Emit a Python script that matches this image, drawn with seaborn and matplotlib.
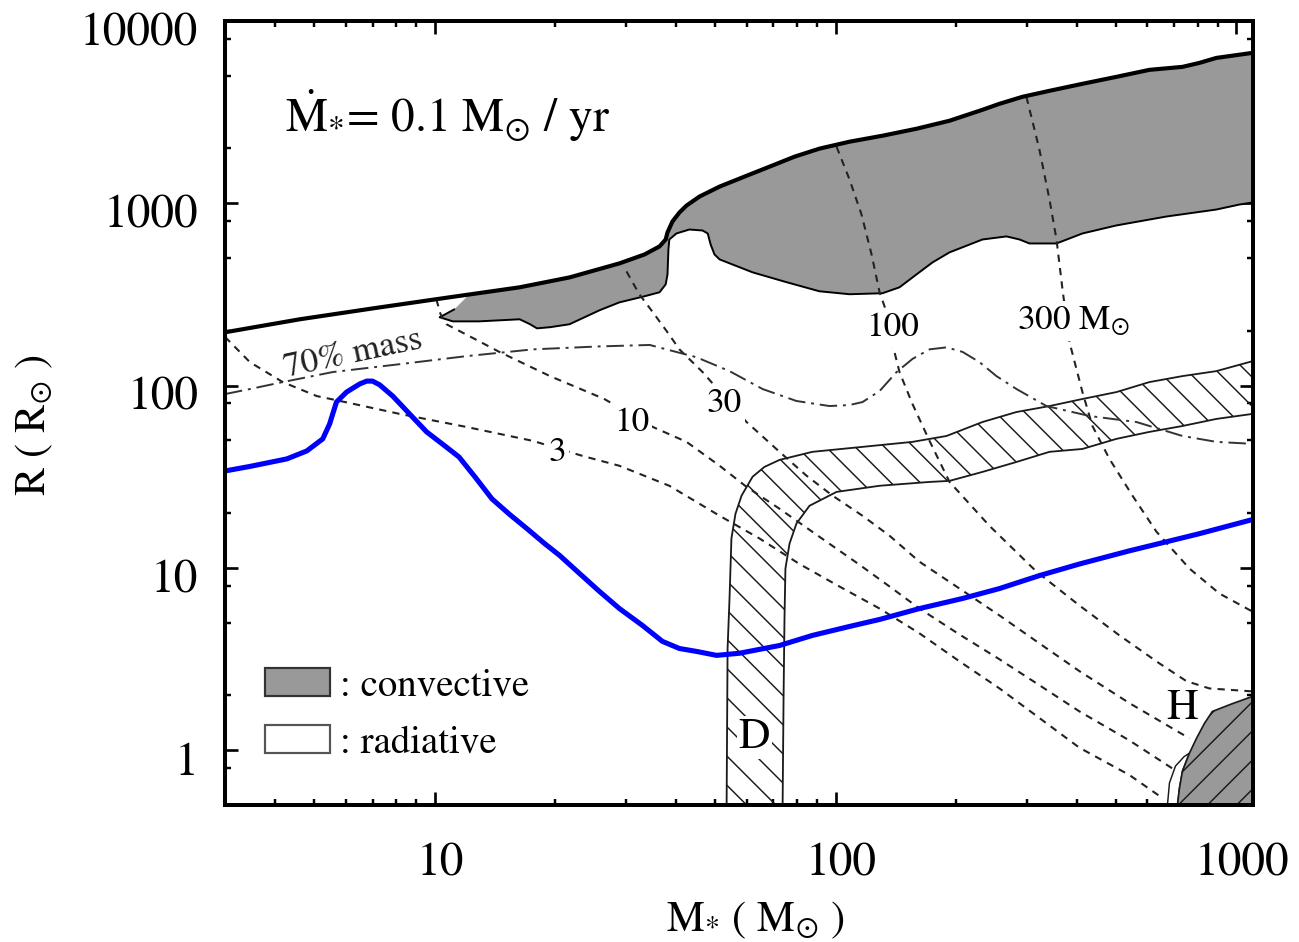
import numpy as np
import matplotlib
matplotlib.use("Agg")
import matplotlib.pyplot as plt
import matplotlib.transforms as mtransforms
from matplotlib.patches import Patch
from matplotlib.ticker import LogLocator, NullFormatter
import seaborn as sns

# ---------------------------------------------------------------- data
# stellar surface radius along the accretion track (M_sun, R_sun)
surface_mass = [3.0, 4.61, 7.09, 10.9, 16.3, 21.7, 28.9, 33.4, 36.4, 37.7, 38.1, 39.2,
                40.8, 42.5, 45.8, 51.4, 59.3, 68.5, 79.1, 91.2, 108.4, 131, 159.2, 192.5,
                232.6, 256.5, 292.6, 341.8, 413, 502, 606.7, 733.5, 808.7, 891, 1096]
surface_radius = [196, 231, 266, 305, 346, 392, 468, 524, 580, 633, 692, 795,
                  890, 972, 1089, 1235, 1401, 1589, 1803, 1994, 2177, 2348, 2564, 2837,
                  3258, 3514, 3838, 4140, 4523, 4939, 5395, 5602, 5891, 6273, 6684]

# inner edge of the outer convective envelope
conv_base_mass = [10.3, 11.1, 12.9, 16.3, 17.3, 18.0, 19.4, 21.7, 25.8, 28.9, 33.4, 36.4,
                  37.7, 38.1, 38.3, 38.5, 40.1, 43.2, 46.6, 48.0, 48.8, 49.9, 51.4, 62.1,
                  75.5, 91.2, 108.4, 131, 144.4, 159.2, 174.6, 192.5, 232.6, 267, 287.7,
                  304.6, 355.8, 413, 502, 669, 891, 1017, 1096]
conv_base_radius = [237, 225, 225, 231, 217, 206, 209, 217, 259, 286, 309, 325,
                    359, 407, 558, 633, 683, 718, 709, 683, 595, 524, 492, 418,
                    369, 329, 317, 321, 346, 407, 474, 538, 633, 658, 633,
                    602, 602, 683, 756, 846, 924, 984, 1010]
# leading tip of the envelope before it meets the surface
conv_tip_mass = [10.3, 11.2]
conv_tip_radius = [237, 262]
conv_join_mass = 12.2

# protostellar radius (blue track)
track_mass = [3.0, 3.46, 4.28, 4.80, 5.26, 5.47, 5.69, 6.03, 6.50, 6.77, 7.00, 7.29, 7.86,
              8.66, 9.55, 10.6, 11.5, 12.6, 13.9, 15.4, 17.0, 18.8, 20.5, 23.0, 25.8, 28.9,
              33.0, 37.0, 40.8, 45.0, 50.5, 57.6, 64.6, 72.5, 87.6, 108.4, 128.8, 162,
              207.4, 256.5, 322.6, 406.1, 541, 669, 808.7, 1096]
track_radius = [34.0, 36.0, 39.6, 43.8, 51.0, 61.5, 81.2, 92.1, 102, 105.8, 105.8, 101, 87.6,
                69.9, 55.7, 46.7, 40.6, 31.6, 23.9, 19.6, 16.4, 13.6, 11.7, 9.30, 7.41, 5.98,
                4.83, 3.95, 3.61, 3.48, 3.31, 3.40, 3.57, 3.75, 4.26, 4.77, 5.21, 5.98,
                6.79, 7.70, 9.07, 10.5, 12.4, 13.9, 15.4, 18.4]

# radius enclosing 70% of the stellar mass
mass70_mass = [3.0, 3.46, 4.18, 5.57, 8.18, 12.0, 17.6, 25.8, 34.4, 45.0, 54.4, 65.8, 79.9,
               96.6, 108.4, 116.8, 128.8, 142, 155.6, 171.6, 189.2, 207.4, 228.6, 252,
               282.8, 335.9, 429.9, 563, 733.5, 891, 1096]
mass70_radius = [89.8, 95.7, 104.5, 118.6, 131, 145, 158, 164, 167, 143, 120, 95.7, 82.3,
                 77.2, 78.2, 81.2, 93.3, 118.6, 140, 158, 162, 153, 134.5, 112.7,
                 95.7, 77.2, 68.1, 63.1, 52.9, 49.1, 47.9]

# iso-mass-coordinate contours M_r = 3, 10, 30, 100, 300 M_sun
iso3_mass = [3.0, 3.46, 4.18, 5.08, 6.14, 8.18, 12.0, 17.6, 23.4, 28.9, 38.5, 51.4, 64.6,
             81.3, 102.3, 128.8, 162, 203.8, 256.5, 322.6, 406.1, 541, 653.9]
iso3_radius = [185, 134.5, 104.5, 87.6, 80.2, 69.9, 59.3, 49.7, 41.1, 36.3, 28.2, 19.3, 14.5,
               10.5, 7.90, 5.98, 4.37, 3.07, 2.18, 1.50, 1.03, 0.730, 0.546]
iso10_mass = [10.1, 10.35, 10.7, 12.6, 14.5, 19.4, 26.5, 35.0, 42.5, 51.4, 60.0, 72.5, 91.2,
              114.8, 136.4, 162, 203.8, 256.5, 322.6, 406.1, 541, 708.7]
iso10_radius = [297, 246, 217, 180, 153, 112.7, 84.4, 59.3, 49.1, 36.3, 27.8, 21.1, 14.8,
                10.4, 7.90, 5.98, 4.31, 3.15, 2.27, 1.63, 1.13, 0.767]
iso30_mass = [30.1, 32.4, 35.0, 38.1, 40.8, 46.6, 60.0, 72.5, 84.7, 98.3, 116.8, 136.4, 162,
              203.8, 256.5, 322.6, 406.1, 541, 763.6]
iso30_radius = [423, 317, 253, 196, 158, 118.6, 63.1, 43.3, 32.0, 24.9, 19.3, 15.0, 10.8,
                7.70, 5.48, 3.85, 2.71, 1.81, 1.16]
iso100_mass = [100.6, 108.4, 116.1, 123.0, 128.8, 133.3, 138.7, 144.4, 155.6, 171.6, 192.5,
               242.1, 317.1, 406.1, 510.8, 642.7, 750.5, 856.3, 1096]
iso100_radius = [2044, 1349, 868, 524, 325, 262, 169, 118.6, 79.2, 49.7, 29.6,
                 17.0, 9.54, 6.21, 4.26, 2.99, 2.39, 2.18, 2.10]
iso300_mass = [299.4, 322.6, 341.8, 355.8, 368.3, 383.4, 413, 437.4, 482.3, 550.4, 631.6,
               763.6, 907, 1096]
iso300_radius = [3838, 1968, 1048, 633, 337, 173, 92.1, 60.0, 39.6, 24.9, 15.8,
                 9.91, 7.23, 5.76]

# contour labels: text, mass, radius
iso_label_text = ["3", "10", "30", "100"]
iso_label_mass = [20.2, 31.0, 52.8, 138.7]
iso_label_radius = [44.9, 65.6, 83.2, 217]
iso300_label = r"300 M$_{\odot}$"
iso300_label_mass, iso300_label_radius = 282.8, 204

# radiative layer of deuterium shell burning (D)
band_outer_mass = [53.5, 53.8, 54.4, 55.0, 56.3, 58.3, 62.1, 66.5, 72.5, 87.6, 116.8, 155.6,
                   189.2, 232.6, 282.8, 341.8, 413, 502, 606.7, 733.5, 891, 1096]
band_outer_radius = [0.5, 3.61, 6.79, 14.5, 19.8, 24.9, 31.6, 35.8, 39.1, 43.3, 46.1, 49.1,
                     52.9, 63.1, 71.6, 77.2, 84.4, 92.1, 104.5, 112.7, 120, 136]
band_inner_mass = [73.8, 74.2, 74.6, 75.0, 76.8, 79.9, 86.1, 100.6, 128.8, 171.6, 192.5,
                   232.6, 282.8, 341.8, 413, 502, 606.7, 733.5, 891, 1096]
band_inner_radius = [0.5, 1.93, 5.28, 9.91, 13.6, 17.5, 21.9, 26.1, 28.2, 29.6, 30.0,
                     33.6, 38.1, 43.3, 44.9, 51.0, 55.7, 60.0, 65.6, 69.9]

# hydrogen burning core (H)
hcore_mass = [712.8, 721, 733.5, 763.6, 795, 832, 871, 971.6, 1096, 1096]
hcore_radius = [0.5, 0.619, 0.767, 0.963, 1.16, 1.40, 1.63, 1.79, 1.97, 0.5]
hshell_mass = [673, 680.7, 704.6, 740, 763.6, 733.5, 721, 712.8]
hshell_radius = [0.5, 0.660, 0.817, 0.92, 0.963, 0.767, 0.619, 0.5]

x_ticks = [10, 100, 1000]
x_tick_labels = ["10", "100", "1000"]
y_ticks = [1, 10, 100, 1000, 10000]
y_tick_labels = ["1", "10", "100", "1000", "10000"]

# ---------------------------------------------------------------- style
DPI = 175
sns.set_theme(style="ticks")
plt.rcParams.update({
    "font.family": ["STIXGeneral", "DejaVu Serif"],
    "mathtext.fontset": "stix",
    "hatch.linewidth": 0.6,
    "axes.edgecolor": "black",
    "axes.linewidth": 1.65,
    "xtick.color": "black",
    "ytick.color": "black",
    "text.color": "black",
    "axes.labelcolor": "black",
})

fig = plt.figure(figsize=(1299 / DPI, 942 / DPI), dpi=DPI)
fig.patch.set_facecolor("white")
ax = fig.add_axes([225 / 1299, 1 - 805 / 942, 1028 / 1299, 784 / 942])
ax.set_xscale("log")
ax.set_yscale("log")

GREY = "#999999"
iso_style = dict(color="#222222", lw=0.85, linestyle=(0, (3.5, 3)), sort=False,
                 estimator=None, ax=ax, zorder=3)

# convective envelope
m_join = conv_join_mass
r_join = 10 ** np.interp(np.log10(m_join), np.log10(surface_mass), np.log10(surface_radius))
upper_m = conv_tip_mass + [m_join] + [m for m in surface_mass if m > m_join]
upper_r = conv_tip_radius + [r_join] + [r for m, r in zip(surface_mass, surface_radius) if m > m_join]
ax.fill(upper_m + conv_base_mass[::-1], upper_r + conv_base_radius[::-1],
        facecolor=GREY, edgecolor="none", zorder=1)
sns.lineplot(x=conv_tip_mass, y=conv_tip_radius, color="black", lw=0.8, sort=False,
             estimator=None, ax=ax, zorder=3)
sns.lineplot(x=conv_base_mass, y=conv_base_radius, color="black", lw=0.8, sort=False,
             estimator=None, ax=ax, zorder=3)

# radiative D-burning layer
ax.fill(band_outer_mass + band_inner_mass[::-1], band_outer_radius + band_inner_radius[::-1],
        facecolor="none", edgecolor="#1a1a1a", hatch="\\\\", lw=0.75, zorder=2)

# H-burning core
ax.fill(hshell_mass, hshell_radius, facecolor="white", edgecolor="#1a1a1a", lw=0.6, zorder=2)
ax.fill(hcore_mass, hcore_radius, facecolor=GREY, edgecolor="#1a1a1a", hatch="//",
        lw=0.7, zorder=2)

# iso-mass contours
for xm, yr in [(iso3_mass, iso3_radius), (iso10_mass, iso10_radius), (iso30_mass, iso30_radius),
               (iso100_mass, iso100_radius), (iso300_mass, iso300_radius)]:
    sns.lineplot(x=xm, y=yr, **iso_style)

# 70% mass radius
sns.lineplot(x=mass70_mass, y=mass70_radius, color="#333333", lw=0.8,
             linestyle=(0, (9, 3, 1.5, 3)), sort=False, estimator=None, ax=ax, zorder=3)

# surface and protostellar radius
sns.lineplot(x=surface_mass, y=surface_radius, color="black", lw=1.7, sort=False,
             estimator=None, ax=ax, zorder=4)
sns.lineplot(x=track_mass, y=track_radius, color="#0000ff", lw=2.1, sort=False,
             estimator=None, ax=ax, zorder=5)

# ---------------------------------------------------------------- labels
box = dict(boxstyle="square,pad=0.08", fc="white", ec="none")
for t, xm, yr in zip(iso_label_text, iso_label_mass, iso_label_radius):
    ax.text(xm, yr, t, ha="center", va="center_baseline", fontsize=14.5, bbox=box, zorder=6)
ax.text(iso300_label_mass, iso300_label_radius, iso300_label, ha="left", va="baseline",
        fontsize=14.5, bbox=box, zorder=6)
ax.text(6.25, 148.8, "70% mass", rotation=12, ha="center", va="center", fontsize=14.5,
        color="#222222", zorder=6)
ax.text(62.8, 1.24, "D", ha="center", va="center_baseline", fontsize=18,
        bbox=dict(boxstyle="square,pad=0.05", fc="white", ec="none"), zorder=6)
ax.text(733.5, 1.79, "H", ha="center", va="center_baseline", fontsize=18, zorder=6)
ax.text(0.058, 0.858, r"$\dot{\mathrm{M}}_{*}$= 0.1 M$_{\odot}$ / yr", transform=ax.transAxes,
        ha="left", va="baseline", fontsize=19.5, zorder=6)

legend_handles = [Patch(facecolor=GREY, edgecolor="#333333", lw=0.9),
                  Patch(facecolor="white", edgecolor="#555555", lw=0.9)]
ax.legend(legend_handles, [": convective", ": radiative"], loc="lower left",
          bbox_to_anchor=(0.039, 0.057), frameon=False, fontsize=16, handlelength=1.67,
          handleheight=0.72, handletextpad=0.25, labelspacing=0.55, borderpad=0,
          borderaxespad=0)

# ---------------------------------------------------------------- axes
ax.set_xlim(3, 1100)
ax.set_ylim(0.5, 1e4)
ax.set_xticks(x_ticks)
ax.set_xticklabels(x_tick_labels)
ax.set_yticks(y_ticks)
ax.set_yticklabels(y_tick_labels)
ax.xaxis.set_minor_locator(LogLocator(base=10, subs=np.arange(2, 10), numticks=50))
ax.yaxis.set_minor_locator(LogLocator(base=10, subs=(2, 5, 8), numticks=50))
ax.xaxis.set_minor_formatter(NullFormatter())
ax.yaxis.set_minor_formatter(NullFormatter())
ax.tick_params(which="both", direction="in", top=True, right=True, color="black")
ax.tick_params(which="major", length=5.5, width=1.1, labelsize=19.5)
ax.tick_params(which="minor", length=2.5, width=1.0)
ax.tick_params(axis="x", which="major", pad=15.5)
ax.tick_params(axis="y", which="major", pad=11)
for sp in ax.spines.values():
    sp.set_linewidth(1.65)
    sp.set_color("black")
    sp.set_zorder(10)

ax.set_xlabel(r"M$_{*}$ ( M$_{\odot}$ )", fontsize=17.5)
ax.set_ylabel(r"R ( R$_{\odot}$ )", fontsize=17.5)
ax.xaxis.set_label_coords(0.516, -0.121)
ax.yaxis.set_label_coords(-0.165, 0.485)

xshift = mtransforms.ScaledTranslation(6 / DPI, 0, fig.dpi_scale_trans)
yshift = mtransforms.ScaledTranslation(0, -8 / DPI, fig.dpi_scale_trans)
for lab in ax.get_xticklabels():
    lab.set_transform(lab.get_transform() + xshift)
for lab in ax.get_yticklabels():
    lab.set_transform(lab.get_transform() + yshift)

fig.savefig("out.png", dpi=DPI, facecolor="white")
